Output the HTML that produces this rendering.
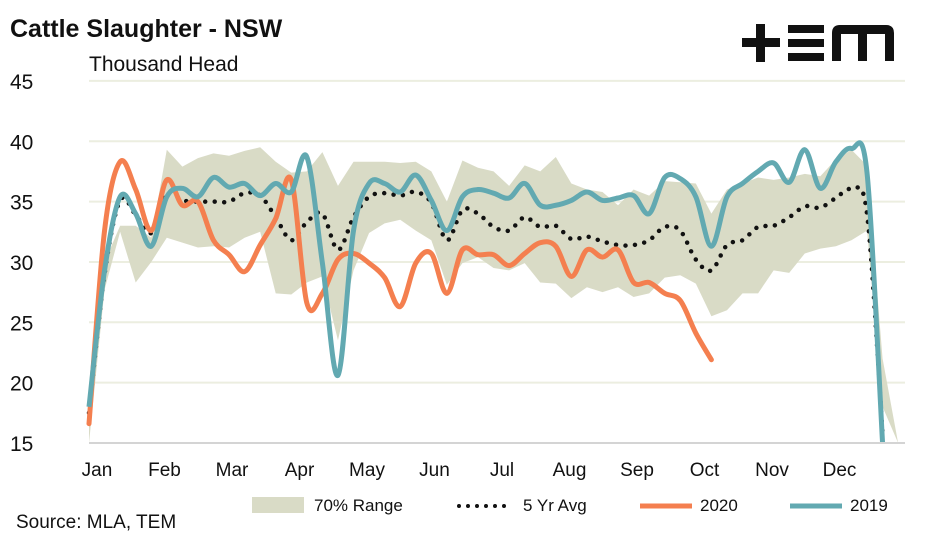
<!DOCTYPE html>
<html><head><meta charset="utf-8"><style>
body{margin:0;background:#fff;font-family:"Liberation Sans",sans-serif}
svg{display:block}
</style></head><body>
<svg id="c" width="939" height="537" viewBox="0 0 939 537">
<rect x="0" y="0" width="939" height="537" fill="#fff"/>
<text x="10" y="37" font-size="25" font-weight="bold" fill="#111">Cattle Slaughter - NSW</text>
<text x="89" y="71" font-size="21" fill="#111">Thousand Head</text>
<g fill="#111">
<rect x="742" y="38" width="38" height="9"/><rect x="756" y="24" width="9" height="38"/>
<rect x="788" y="25" width="36" height="8"/><rect x="788" y="39" width="36" height="8"/><rect x="788" y="53" width="36" height="8"/>
<path d="M832 61 V33 Q832 25 840 25 H886 Q894 25 894 33 V61 H885 V34 H867 V61 H858 V34 H841 V61 Z"/>
</g>
<g id="grid"></g><g id="band"></g><g id="lines"></g><g id="axes"></g>
<g font-size="17" fill="#111">
<rect x="252" y="497" width="52" height="16" fill="#d9dbc6"/>
<text x="314" y="511">70% Range</text>
<line x1="459" y1="506" x2="513" y2="506" stroke="#111" stroke-width="4" stroke-dasharray="0 9" stroke-linecap="round"/>
<text x="523" y="511">5 Yr Avg</text>
<line x1="640" y1="506" x2="692" y2="506" stroke="#f47f4f" stroke-width="5"/>
<text x="700" y="511">2020</text>
<line x1="790" y1="506" x2="842" y2="506" stroke="#62a9b1" stroke-width="5"/>
<text x="850" y="511">2019</text>
</g>
<text x="16" y="528" font-size="19" fill="#111">Source: MLA, TEM</text>
</svg>
<script>
const months=["Jan","Feb","Mar","Apr","May","Jun","Jul","Aug","Sep","Oct","Nov","Dec"];
const yTicks=[15,20,25,30,35,40,45];
const s2020=[16.6,32.6,38.3,36,32.6,36.8,34.7,35,31.8,30.6,29.2,31.4,33.6,36.8,26.6,27.4,30.2,30.7,29.9,28.7,26.3,29.9,30.7,27.4,31,30.6,30.6,29.7,30.7,31.6,31.3,28.8,31,30.4,31,28.3,28.3,27.4,26.8,24.1,21.9];
const s2019=[18,29.3,35.4,34,31.3,35.4,36.1,35.4,37,36.2,36.5,35.5,36.5,35.8,38.7,29.9,20.6,32.6,36.5,36.5,35.8,37.2,35.1,32.6,35.4,36,35.7,35.3,36.5,34.7,34.7,35.1,35.8,35.1,35.3,35.5,34,37,36.9,35.4,31.3,35.4,36.5,37.5,38.2,36.6,39.3,36.1,38.3,39.4,37.4,15];
const avg5=[17.5,29,35.1,33.9,32.4,35.7,35.1,35,35,35,35.7,35.5,33.7,31.8,33.3,34,31,33.7,35.4,35.7,35.5,35.8,34.9,31.8,34.3,34,32.9,32.6,33.7,32.9,33,31.9,32.1,31.7,31.4,31.4,31.8,32.9,32.6,30.2,29.3,31.4,31.8,32.9,33,33.7,34.6,34.5,35.3,36,34,15.8];
const bandHi=[17,30,33,33,32,39.3,37.9,38.6,39,38.8,39.2,39.5,38.3,37.4,37.5,39.1,36.3,38.3,38.3,38.3,38.2,38.3,37.5,35,38.4,37.8,37.5,36.3,38,37.5,38.7,36.5,36,35.8,34.7,36,35.5,36.7,36.6,36.5,34,36,36.5,37,36.8,37,37.3,37.1,38.5,39.3,38,22,15];
const bandLo=[15,27.7,32.5,28.3,30,32,31.6,31.2,31.3,31.2,32,32.5,27.4,27.3,28.3,28.8,23.5,29.3,32.4,33.2,33.5,32.6,31.8,28.1,29.9,30.4,29.5,29.3,29.9,28.3,28.2,27,27.9,27.5,27.9,27.1,27.4,28.7,28.9,28.2,25.5,26,27.4,27.4,29.3,29.1,30.7,31.1,31.3,31.8,32.6,18,15];
const MX0=97,MDX=67.5;
const X0=89,DX=15.56,Y0=443,PX=12.07;
const x=i=>X0+i*DX, y=v=>Y0-(v-15)*PX;
const NS="http://www.w3.org/2000/svg";
function mk(t,a,p){const e=document.createElementNS(NS,t);for(const k in a)e.setAttribute(k,a[k]);p.appendChild(e);return e;}
function smooth(pts){let d=`M${pts[0][0]},${pts[0][1]}`;for(let i=0;i<pts.length-1;i++){const p0=pts[i-1]||pts[i],p1=pts[i],p2=pts[i+1],p3=pts[i+2]||p2;const c1=[p1[0]+(p2[0]-p0[0])/6,p1[1]+(p2[1]-p0[1])/6],c2=[p2[0]-(p3[0]-p1[0])/6,p2[1]-(p3[1]-p1[1])/6];d+=`C${c1[0]},${c1[1]} ${c2[0]},${c2[1]} ${p2[0]},${p2[1]}`;}return d;}
const grid=document.getElementById('grid'),axes=document.getElementById('axes');
yTicks.forEach(v=>{
 if(v>15){const l=mk('line',{x1:X0,x2:905,y1:y(v),y2:y(v),stroke:'#eceee0','stroke-width':2},grid);
 
 }
 const t=mk('text',{x:10,y:y(v)+8,'font-size':21,fill:'#111'},axes);t.textContent=v;
 
 
});
const ax=mk('line',{x1:X0,x2:905,y1:Y0,y2:Y0,stroke:'#d4d4d4','stroke-width':2},axes);


months.forEach((m,i)=>{const t=mk('text',{x:MX0+i*MDX,y:476,'font-size':19,fill:'#111','text-anchor':'middle'},axes);t.textContent=m;
 
 });
let bd='';bandHi.forEach((v,i)=>bd+=(i?'L':'M')+x(i)+','+y(v));
for(let i=bandLo.length-1;i>=0;i--)bd+='L'+x(i)+','+y(bandLo[i]);
const b=mk('path',{d:bd+'Z',fill:'#d9dbc6'},document.getElementById('band'));


const L=document.getElementById('lines');
const a=mk('path',{d:smooth(avg5.map((v,i)=>[x(i),y(v)])),fill:'none',stroke:'#111','stroke-width':4.5,'stroke-dasharray':'0 9.5','stroke-linecap':'round'},L);


const l20=mk('path',{d:smooth(s2020.map((v,i)=>[x(i),y(v)])),fill:'none',stroke:'#f47f4f','stroke-width':5,'stroke-linecap':'round'},L);


const l19=mk('path',{d:smooth(s2019.map((v,i)=>[x(i),y(v)])),fill:'none',stroke:'#62a9b1','stroke-width':5},L);


</script>
</body></html>
